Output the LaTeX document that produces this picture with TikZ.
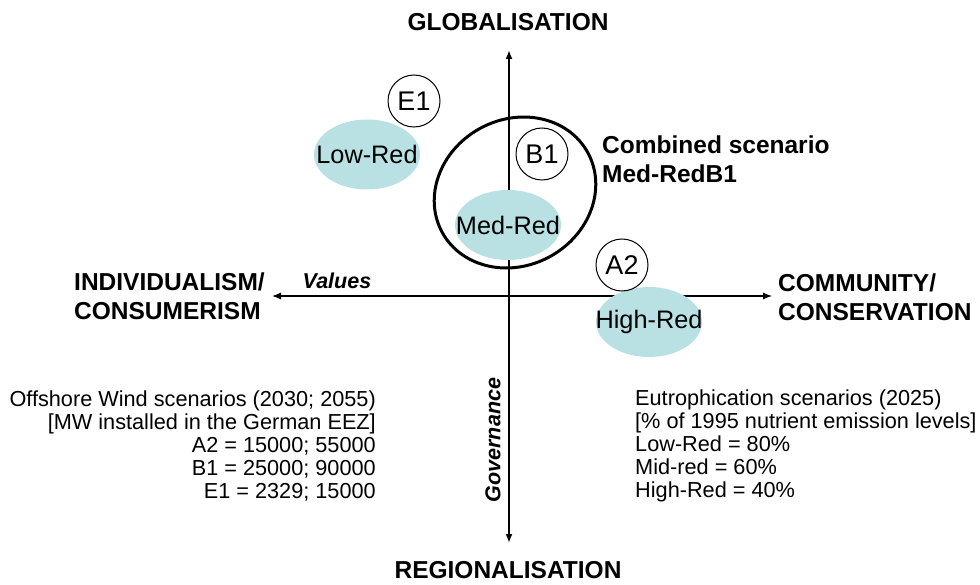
\documentclass[tikz,border=0pt]{standalone}
\usepackage{fontspec}
\setmainfont{Liberation Sans}
\usetikzlibrary{arrows.meta,shapes.geometric}
\definecolor{teal1}{RGB}{185,224,227}
\begin{document}
\begin{tikzpicture}[x=1bp,y=-1bp,
  big/.style={font=\fontsize{24.5bp}{29bp}\selectfont\bfseries, inner sep=0pt},
  small/.style={font=\fontsize{21.7bp}{23bp}\selectfont, inner sep=0pt},
  axlab/.style={font=\fontsize{21.5bp}{24bp}\selectfont\bfseries\itshape, inner sep=0pt},
  redlab/.style={inner sep=0pt, font=\fontsize{25.3bp}{28bp}\selectfont},
  redfill/.style={fill=teal1},
  scen/.style={circle, draw, fill=white, line width=1bp, minimum size=52bp, inner sep=0pt, font=\fontsize{27bp}{28bp}\selectfont},
  axis/.style={-{Latex[length=9bp,width=7bp]}}
]
\useasboundingbox (0,0) rectangle (980,585);
% axes
\coordinate (c) at (509,296);
\coordinate (top) at (509,50);
\coordinate (bot) at (509,543);
\coordinate (lft) at (272,296);
\coordinate (rgt) at (772,296);
\draw[axis, line width=2bp] (c) -- (top);
\draw[axis, line width=2bp] (c) -- (bot);
\draw[axis, line width=1.2bp] (c) -- (lft);
\draw[axis, line width=1.2bp] (c) -- (rgt);
% combined ellipse
\node[draw, ellipse, line width=3bp, minimum width=166bp, minimum height=146bp, rotate=29, inner sep=0pt] (comb) at (515,192.5) {};
% red ellipses
\fill[redfill] (367,154.5) ellipse [x radius=53, y radius=35];
\fill[redfill] (508,225) ellipse [x radius=53, y radius=35];
\fill[redfill] (649,322) ellipse [x radius=53, y radius=35];
\node[redlab] (low) at (367,154.5) {Low-Red};
\node[redlab] (med) at (508,225) {Med-Red};
\node[redlab] (high) at (649,322) {High-Red};
% scenario circles
\node[scen] (e1) at (414,101) {E1};
\node[scen] (b1) at (542,154) {B1};
\node[scen] (a2) at (622,265) {A2};
% axis labels
\node[big] (glob) at (508,22) {GLOBALISATION};
\node[big] (regio) at (508,570) {REGIONALISATION};
\node[big, anchor=west, align=left] (indiv) at (74,296) {INDIVIDUALISM/\\CONSUMERISM};
\node[big, anchor=west, align=left] (commu) at (778,297) {COMMUNITY/\\CONSERVATION};
\node[axlab] (values) at (337,281) {Values};
\node[axlab, rotate=90] (gov) at (493,440) {Governance};
\node[big, anchor=west, align=left] (combt) at (602,159) {Combined scenario\\Med-RedB1};
% text blocks
\node[small, anchor=east, align=right] (wind) at (376,446) {Offshore Wind scenarios (2030; 2055)\\{[}MW installed in the German EEZ]\\A2 = 15000; 55000\\B1 = 25000; 90000\\E1 = 2329; 15000};
\node[small, anchor=west, align=left] (eutro) at (635,446) {Eutrophication scenarios (2025)\\{[}\% of 1995 nutrient emission levels]\\Low-Red = 80\%\\Mid-red = 60\%\\High-Red = 40\%};
\end{tikzpicture}
\end{document}
